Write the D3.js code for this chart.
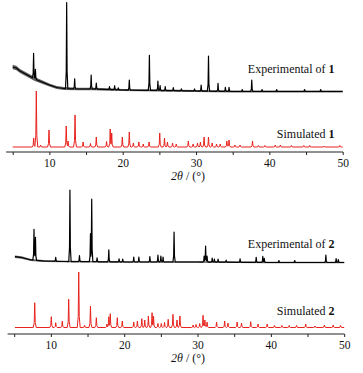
<!DOCTYPE html>
<html>
<head>
<meta charset="utf-8">
<script src="https://cdn.jsdelivr.net/npm/d3@7/dist/d3.min.js"></script>
<style>
  html, body { margin: 0; padding: 0; background: #fff; }
  svg { display: block; }
  text { font-family: "Liberation Serif", "Times New Roman", serif; fill: #111; }
</style>
</head>
<body>
<div id="chart"></div>
<script>
// ---------- DATA (2θ in degrees, intensity in arbitrary units) ----------
const tickValues = [5, 10, 15, 20, 25, 30, 35, 40, 45, 50];
const tickLabels = ["", "10", "", "20", "", "30", "", "40", "", "50"];

// Panel 1 : experimental of 1 (background + noise envelope + peaks)
const exp1BgX     = [5.0, 5.5, 6, 7, 8, 9, 10, 11, 12, 14, 16, 18, 20, 25, 30, 35, 40, 45, 50];
const exp1BgY     = [85, 84, 81, 77, 73, 70, 67, 64.5, 63.5, 63, 63, 62.5, 62, 61.5, 61, 60.5, 60.5, 60.5, 60.5];
const exp1Noise   = [2.2, 2.2, 2.1, 2, 1.9, 1.8, 1.6, 1.5, 1.4, 1.3, 1.2, 1.2, 1.1, 1.1, 1.1, 1.1, 1.1, 1.1, 1.1];
const exp1PeakPos = [7.85, 8.1, 12.36, 13.45, 15.7, 16.4, 18.2, 18.9, 19.4, 20.9, 23.64, 24.8, 25.1, 25.8, 26.9, 28.0, 29.8, 30.7, 31.7, 33.0, 34.0, 34.5, 36.3, 37.6, 39.0, 41.0, 44.8, 47.0];
const exp1PeakH   = [25, 10, 86, 10, 14, 6, 3, 4, 2, 10, 35, 9.5, 5, 4, 3, 2, 2, 6, 35, 8, 4, 4, 2, 11.5, 2, 2, 2, 2];

// Panel 1 : simulated 1
const sim1Base    = 5;
const sim1PeakPos = [7.86, 8.22, 8.8, 9.95, 12.3, 12.55, 13.5, 14.6, 15.6, 16.4, 17.8, 18.3, 18.5, 19.95, 20.9, 21.45, 22.2, 22.8, 23.6, 25.05, 25.7, 26.1, 26.8, 27.3, 28.95, 29.6, 30.2, 30.6, 31.1, 31.7, 32.2, 32.8, 33.3, 34.2, 34.5, 35.3, 36.0, 37.7, 38.5, 39.4, 40.8, 41.5, 43.0, 44.7, 45.5, 47.5, 49.6];
const sim1PeakH   = [9, 56, 2, 17, 21, 6, 32, 5, 3.5, 10, 5.5, 18, 14, 10, 15, 4, 5, 3, 5, 14, 9, 5, 4, 3, 6, 3, 4, 5, 10, 10, 4, 3, 3, 6, 7, 2, 2, 6, 1.5, 1.5, 2, 2, 1.5, 1.5, 1.5, 1, 1.5];

// Panel 2 : experimental of 2
const exp2BgX     = [5.1, 6, 7.3, 9, 12, 20, 30, 40, 50];
const exp2BgY     = [77.3, 76.5, 74, 73, 72.5, 72, 72, 71.5, 71.5];
const exp2Noise   = [1.3, 1.2, 1.0, 0.9, 0.8, 0.8, 0.8, 0.8, 0.8];
const exp2PeakPos = [7.7, 7.9, 10.66, 12.6, 13.9, 15.4, 15.57, 16.3, 17.9, 19.3, 19.8, 21.3, 22.0, 23.5, 24.6, 25.0, 25.3, 26.8, 30.9, 31.1, 31.3, 32.0, 32.3, 32.8, 33.9, 35.8, 38.0, 38.9, 39.1, 41.1, 43.25, 47.5, 48.9, 49.2];
const exp2PeakH   = [31, 23, 4, 71.5, 6, 28, 62.5, 4, 12, 3, 3, 5, 5, 5.5, 7, 6, 5, 30, 6, 16, 6, 4, 3, 3, 2, 3.5, 5, 6, 4, 2, 2, 7.5, 4, 3];

// Panel 2 : simulated 2
const sim2Base    = 6.5;
const sim2PeakPos = [7.8, 10.06, 10.66, 11.56, 12.43, 13.8, 14.6, 15.4, 16.2, 17.65, 17.9, 18.1, 19.06, 19.74, 21.3, 21.8, 22.4, 22.8, 23.3, 23.8, 24.0, 24.6, 25.06, 25.5, 26.0, 26.65, 27.2, 27.6, 29.4, 29.8, 30.3, 30.75, 31.0, 31.3, 32.6, 33.7, 34.15, 35.4, 36.0, 37.25, 38.25, 39.5, 40.5, 41.5, 42.5, 43.5, 44.75, 46.0, 47.3, 48.5, 49.5];
const sim2PeakH   = [24.8, 10.8, 4.8, 6.5, 28.2, 55.5, 2.2, 21.5, 9.8, 3.5, 10.8, 13.8, 9.8, 6.5, 5.5, 6.5, 8.8, 7.5, 11.5, 14.8, 11.5, 4, 4, 5, 8.2, 13.2, 7.5, 11.5, 2.5, 3, 4, 12.2, 7.5, 5.5, 5.5, 6.5, 4.5, 5.5, 4.5, 5.8, 3.5, 3.5, 2, 2, 2, 2, 3.5, 1.5, 2.5, 2.5, 2];

const labels = [
  { main: "Experimental of ", num: "1" },
  { main: "Simulated ", num: "1" },
  { main: "Experimental of ", num: "2" },
  { main: "Simulated ", num: "2" }
];

// ---------- DRAWING ----------
const W = 363, H = 373;
const svg = d3.select("#chart").append("svg").attr("width", W).attr("height", H);

const RED = "#e8221c";

function interp(xs, ys, x) {
  if (x <= xs[0]) return ys[0];
  if (x >= xs[xs.length - 1]) return ys[ys.length - 1];
  for (let i = 1; i < xs.length; i++) {
    if (x <= xs[i]) {
      const t = (x - xs[i - 1]) / (xs[i] - xs[i - 1]);
      return ys[i - 1] + t * (ys[i] - ys[i - 1]);
    }
  }
}

// builds the vertex list of a pattern from its background nodes and peak list
function profile(bgX, bgY, pos, h, w, x0, x1) {
  let xs = bgX.slice();
  pos.forEach(p => { xs.push(p - w, p - w * 0.35, p, p + w * 0.35, p + w); });
  xs.push(x0, x1);
  xs = Array.from(new Set(xs.map(v => +v.toFixed(4)))).filter(v => v >= x0 && v <= x1).sort((a, b) => a - b);
  return xs.map(x => {
    let m = 0;
    pos.forEach((p, i) => {
      const d = Math.abs(x - p) / w;
      if (d < 1) {
        // sharp top with a small foot
        const v = d < 0.35 ? 1 - d * (0.8 / 0.35) : 0.2 * (1 - d) / 0.65;
        m = Math.max(m, h[i] * v);
      }
    });
    return [x, interp(bgX, bgY, x) + m];
  });
}

function panel(cfg) {
  const x = d3.scaleLinear().domain([5, 50]).range(cfg.xr);
  const y = d3.scaleLinear().domain([0, 150]).range([cfg.axisY, cfg.axisY - 150]);
  const g = svg.append("g");

  // axis
  g.append("line")
    .attr("x1", x(4.1)).attr("x2", x(50.05))
    .attr("y1", cfg.axisY).attr("y2", cfg.axisY)
    .attr("stroke", "#222").attr("stroke-width", 1);
  const ax = d3.axisBottom(x).tickValues(tickValues)
    .tickFormat((d, i) => tickLabels[i]).tickSize(3).tickPadding(4);
  const axG = g.append("g").attr("transform", `translate(0,${cfg.axisY})`).call(ax);
  axG.select(".domain").remove();
  axG.selectAll(".tick line").attr("stroke", "#222");
  axG.selectAll(".tick text")
    .style("font-family", '"Liberation Serif", "Times New Roman", serif')
    .style("font-size", "11.5px").attr("fill", "#111");

  // axis title
  const t = g.append("text").attr("x", 188).attr("y", cfg.axisY + 28)
    .attr("text-anchor", "middle").style("font-size", "12px");
  t.append("tspan").style("font-style", "italic").text("2θ");
  t.append("tspan").text(" / (°)");

  const line = d3.line().x(d => x(d[0])).y(d => y(d[1]));

  // experimental noise band
  const band = d3.area().x((d, i) => x(cfg.expBgX[i]))
    .y0((d, i) => y(cfg.expBgY[i] - cfg.expNoise[i]))
    .y1((d, i) => y(cfg.expBgY[i] + cfg.expNoise[i]));
  g.append("path").datum(cfg.expBgX).attr("d", band)
    .attr("fill", "#222").attr("opacity", 0.7);

  // experimental pattern
  const expPts = profile(cfg.expBgX, cfg.expBgY, cfg.expPos, cfg.expH, 0.16, cfg.expBgX[0], 50);
  g.append("path").datum(expPts).attr("d", line)
    .attr("fill", "none").attr("stroke", "#000").attr("stroke-width", 1.2)
    .attr("stroke-linejoin", "round");

  // simulated pattern
  const simPts = profile([cfg.simStart, 50], [cfg.simBase, cfg.simBase], cfg.simPos, cfg.simH, 0.2, cfg.simStart, 50);
  g.append("path").datum(simPts).attr("d", line)
    .attr("fill", "none").attr("stroke", RED).attr("stroke-width", 1)
    .attr("stroke-linejoin", "round");

  // labels
  cfg.labels.forEach(l => {
    const tx = g.append("text").attr("x", 334.5).attr("y", l.y)
      .attr("text-anchor", "end").style("font-size", "12px");
    tx.append("tspan").text(l.main);
    tx.append("tspan").style("font-weight", "bold").text(l.num);
  });
}

panel({
  xr: [12.7, 342.7], axisY: 152,
  expBgX: exp1BgX, expBgY: exp1BgY, expNoise: exp1Noise, expPos: exp1PeakPos, expH: exp1PeakH,
  simStart: 5.0, simBase: sim1Base, simPos: sim1PeakPos, simH: sim1PeakH,
  labels: [Object.assign({ y: 72.7 }, labels[0]), Object.assign({ y: 137.7 }, labels[1])]
});

panel({
  xr: [14.2, 344.2], axisY: 334,
  expBgX: exp2BgX, expBgY: exp2BgY, expNoise: exp2Noise, expPos: exp2PeakPos, expH: exp2PeakH,
  simStart: 5.1, simBase: sim2Base, simPos: sim2PeakPos, simH: sim2PeakH,
  labels: [Object.assign({ y: 248.3 }, labels[2]), Object.assign({ y: 315 }, labels[3])]
});
</script>
</body>
</html>
